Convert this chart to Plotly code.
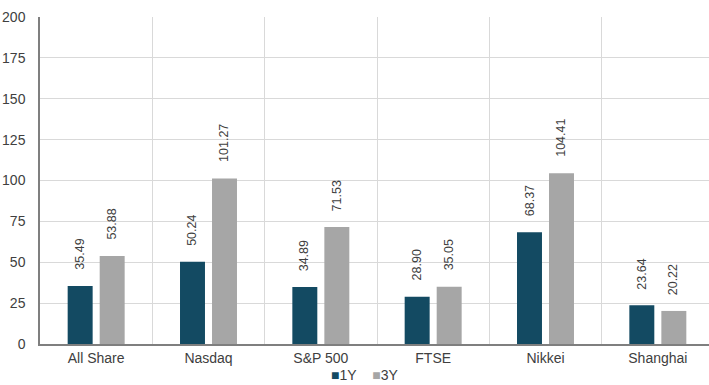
import plotly.graph_objects as go

categories = ["All Share", "Nasdaq", "S&P 500", "FTSE", "Nikkei", "Shanghai"]
series_names = ["1Y", "3Y"]
values_1y = [35.49, 50.24, 34.89, 28.90, 68.37, 23.64]
values_3y = [53.88, 101.27, 71.53, 35.05, 104.41, 20.22]
colors = ["#134a62", "#a6a6a6"]
y_ticks = [0, 25, 50, 75, 100, 125, 150, 175, 200]

FONT = "Liberation Sans, Arial, sans-serif"

fig = go.Figure()
for name, vals, col in zip(series_names, [values_1y, values_3y], colors):
    fig.add_trace(go.Bar(x=categories, y=vals, name=name, showlegend=False,
                         marker=dict(color=col, line=dict(width=0))))

# data labels
slot_shift = 16
for i, (name, vals) in enumerate(zip(series_names, [values_1y, values_3y])):
    shift = -slot_shift if i == 0 else slot_shift
    for c, v in zip(categories, vals):
        fig.add_annotation(x=c, y=v, xref="x", yref="y", text=f"{v:.2f}", textangle=-90,
                           showarrow=False, yanchor="bottom", xanchor="center",
                           xshift=shift, yshift=14,
                           font=dict(family=FONT, size=12.5, color="#404040"))

# partially visible title at top
fig.add_annotation(x=0, y=1, xref="paper", yref="paper", text="Return (percentage)",
                   showarrow=False, xanchor="left", yanchor="bottom", xshift=12, yshift=15,
                   font=dict(family=FONT, size=14, color="#404040"))

# legend (compact, as in the reference)
legend_text = "\u00a0\u00a0\u00a0\u00a0".join(f"<span style='color:{c}'>■</span>{n}" for n, c in zip(series_names, colors))
fig.add_annotation(x=0.482, y=-0.095, xref="paper", yref="paper", text=legend_text,
                   showarrow=False, xanchor="center", yanchor="middle",
                   font=dict(family=FONT, size=14, color="#404040"))

fig.update_layout(
    width=716, height=385,
    margin=dict(l=40, r=2, t=17, b=41, autoexpand=False),
    paper_bgcolor="white", plot_bgcolor="white",
    barmode="group", bargap=0.43, bargroupgap=0.22,
    font=dict(family=FONT, size=14, color="#404040"),
    showlegend=False,
    xaxis=dict(type="category", showgrid=True, gridcolor="#d9d9d9", gridwidth=1,
               tickson="boundaries", ticks="", showline=True, linecolor="#7f7f7f", linewidth=1.5,
               tickfont=dict(family=FONT, size=14, color="#404040")),
    yaxis=dict(range=[0, 200], tickvals=y_ticks, showgrid=True, gridcolor="#d9d9d9", gridwidth=1,
               showline=True, linecolor="#7f7f7f", linewidth=1.5, zeroline=False,
               ticks="", ticklabelstandoff=10,
               tickfont=dict(family=FONT, size=14, color="#404040")),
)

fig.write_html("out.html")
